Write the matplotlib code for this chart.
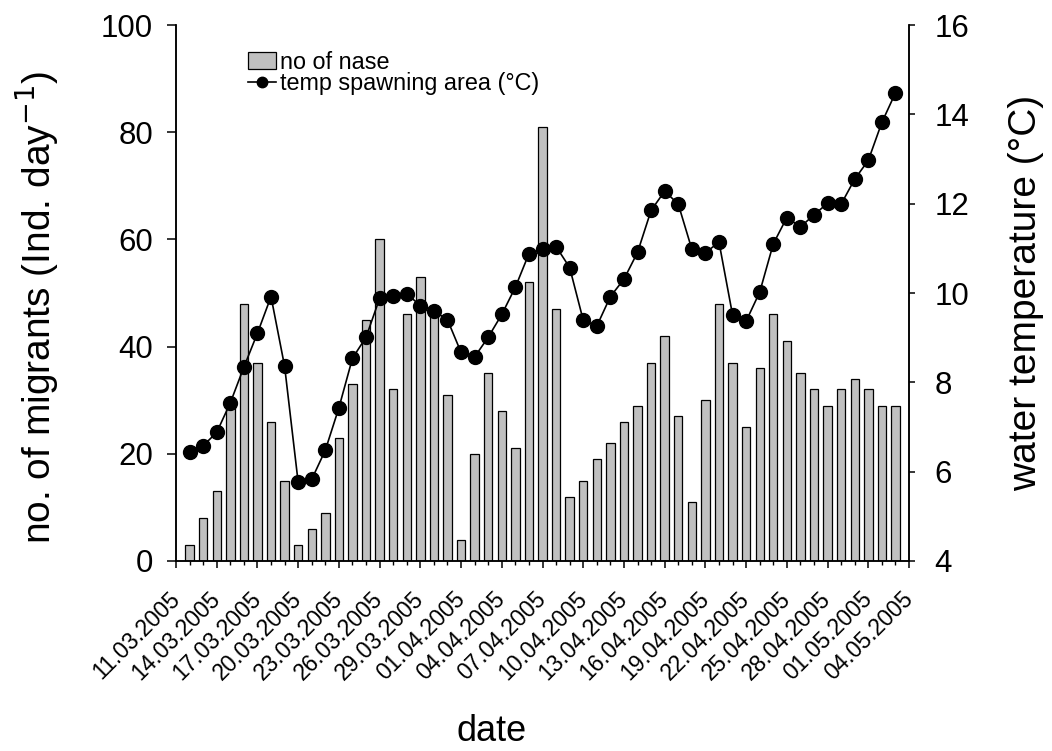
import matplotlib
matplotlib.use("Agg")
import matplotlib.pyplot as plt
import matplotlib.dates as mdates
import numpy as np
import pandas as pd

plt.rcParams['font.family'] = ['Liberation Sans', 'DejaVu Sans']

# daily values 12.03.2005 - 03.05.2005
dates = pd.date_range('2005-03-12', '2005-05-03', freq='D')
nase = [3, 8, 13, 30, 48, 37, 26, 15, 3, 6, 9, 23, 33, 45, 60, 32, 46, 53,
        47, 31, 4, 20, 35, 28, 21, 52, 81, 47, 12, 15, 19, 22, 26, 29, 37,
        42, 27, 11, 30, 48, 37, 25, 36, 46, 41, 35, 32, 29, 32, 34, 32, 29, 29]
temp = [6.45, 6.58, 6.88, 7.54, 8.34, 9.10, 9.92, 8.36, 5.76, 5.83, 6.48,
        7.43, 8.54, 9.01, 9.88, 9.93, 9.98, 9.72, 9.60, 9.40, 8.67, 8.57,
        9.01, 9.52, 10.13, 10.88, 10.98, 11.04, 10.57, 9.39, 9.26, 9.92,
        10.31, 10.91, 11.85, 12.28, 11.99, 10.98, 10.90, 11.14, 9.51, 9.37,
        10.02, 11.10, 11.69, 11.48, 11.75, 12.01, 11.99, 12.55, 12.97,
        13.82, 14.48]
tick_dates = pd.date_range('2005-03-11', '2005-05-04', freq='3D')

fig = plt.figure(figsize=(10.52, 7.51), dpi=100)
ax = fig.add_axes([0.1673, 0.253, 0.6968, 0.7137])
ax2 = ax.twinx()

bars = ax.bar(dates, nase, width=0.62, color='#c0c0c0', edgecolor='black',
              linewidth=0.9, label='no of nase')
line, = ax2.plot(dates, temp, color='black', linewidth=1.2, marker='o',
                 markersize=10, label='temp spawning area (°C)')

ax.set_xlim(tick_dates[0], tick_dates[-1])
ax.set_ylim(0, 100)
ax2.set_ylim(4, 16)
ax.set_yticks(np.arange(0, 101, 20))
ax2.set_yticks(np.arange(4, 17, 2))

ax.set_xticks(tick_dates)
ax.xaxis.set_major_formatter(mdates.DateFormatter('%d.%m.%Y'))
ax.xaxis.set_minor_locator(mdates.DayLocator())
for lbl in ax.get_xticklabels():
    lbl.set_rotation(45)
    lbl.set_ha('right')
    lbl.set_va('center')
    lbl.set_rotation_mode('anchor')

for a in (ax, ax2):
    a.spines['top'].set_visible(False)
    for s in a.spines.values():
        s.set_linewidth(1.1)

ax.tick_params(axis='x', which='major', direction='out', length=5, width=1.1,
               labelsize=16.5, pad=20)
ax.tick_params(axis='x', which='minor', direction='out', length=3, width=1.0)
ax.tick_params(axis='y', direction='out', length=6.5, width=1.1,
               labelsize=22.5, pad=10)
ax2.tick_params(axis='y', direction='out', length=4.5, width=1.1,
                labelsize=22.5, pad=14)

ax.set_ylabel('no. of migrants (Ind. day$^{-1}$)', fontsize=28)
ax.yaxis.set_label_coords(-0.158, 0.474)
ax2.set_ylabel('water temperature (°C)', fontsize=28)
ax2.yaxis.set_label_coords(1.135, 0.5)
ax.set_xlabel('date', fontsize=26)
ax.xaxis.label.set_va('baseline')
ax.xaxis.set_label_coords(0.431, -0.335)

ax2.legend([bars, line], ['no of nase', 'temp spawning area (°C)'],
           loc='upper left', bbox_to_anchor=(0.082, 0.974), frameon=False,
           fontsize=16.8, handlelength=1.2, handletextpad=0.2, borderpad=0,
           labelspacing=-0.05, markerscale=0.75)

fig.savefig('out.png', dpi=100)
